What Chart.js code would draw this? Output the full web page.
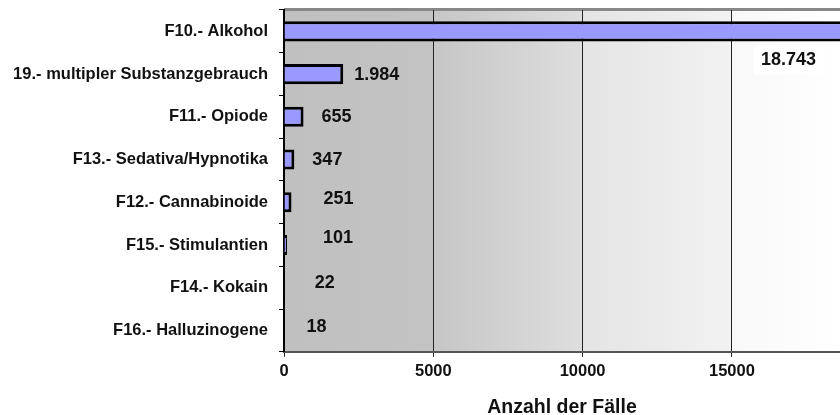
<!DOCTYPE html>
<html>
<head>
<meta charset="utf-8">
<script src="https://cdn.jsdelivr.net/npm/chart.js@4"></script>
<style>
  html, body { margin: 0; padding: 0; background: #fff; }
  canvas { display: block; }
</style>
</head>
<body>
<canvas id="bar-chart" width="840" height="415"></canvas>
<script>
const categories = [
  'F10.- Alkohol',
  '19.- multipler Substanzgebrauch',
  'F11.- Opiode',
  'F13.- Sedativa/Hypnotika',
  'F12.- Cannabinoide',
  'F15.- Stimulantien',
  'F14.- Kokain',
  'F16.- Halluzinogene',
];
const cases = [18743, 1984, 655, 347, 251, 101, 22, 18];
const xTicks = [0, 5000, 10000, 15000];

// nudges for the value labels [dx, dy], they were moved by hand in the original
const labelNudge = [[0, 0], [5, 1], [12, 0], [12, 0], [26, -3], [30, -7], [24, -5], [16, -3]];

const FONT = 'Arial, "Liberation Sans", sans-serif';

function formatNumber(v) {
  return v.toLocaleString('de-DE');
}

const plotBackground = {
  id: 'plotBackground',
  beforeDraw(chart) {
    const { ctx, chartArea: a, scales: { x } } = chart;
    const bands = [
      [0, 5000, '#c0c0c0', '#c3c3c3'],
      [5000, 10000, '#c6c6c6', '#dedede'],
      [10000, 15000, '#e4e4e4', '#f2f2f2'],
      [15000, x.max, '#f8f8f8', '#ffffff'],
    ];
    ctx.save();
    bands.forEach(([from, to, c1, c2]) => {
      const x1 = x.getPixelForValue(from);
      const x2 = x.getPixelForValue(to);
      const g  = ctx.createLinearGradient(x1, 0, x2, 0);
      g.addColorStop(0, c1);
      g.addColorStop(1, c2);
      ctx.fillStyle = g;
      ctx.fillRect(x1, a.top, x2 - x1, a.bottom - a.top);
    });
    // grey top border
    ctx.strokeStyle = '#888';
    ctx.lineWidth = 3;
    ctx.beginPath();
    ctx.moveTo(a.left, a.top - 0.5);
    ctx.lineTo(a.right, a.top - 0.5);
    ctx.stroke();
    ctx.restore();
  },
};

const valueLabels = {
  id: 'valueLabels',
  afterDatasetsDraw(chart) {
    const { ctx, chartArea: a, scales: { x } } = chart;
    const meta = chart.getDatasetMeta(0);
    ctx.save();
    ctx.font = `bold 18px ${FONT}`;
    ctx.textBaseline = 'middle';
    meta.data.forEach((bar, i) => {
      const text = formatNumber(cases[i]);
      if (cases[i] > x.max) {
        // bar runs off the plot: label sits under it on a white box
        const w  = ctx.measureText(text).width;
        const tx = a.right - 24 - w;
        const ty = bar.y + 29;
        ctx.fillStyle = '#fff';
        ctx.fillRect(tx - 7, ty - 14, w + 14, 28);
        ctx.fillStyle = '#111';
        ctx.textAlign = 'left';
        ctx.fillText(text, tx, ty);
        return;
      }
      const [dx, dy] = labelNudge[i];
      ctx.fillStyle = '#111';
      ctx.textAlign = 'left';
      ctx.fillText(text, bar.x + 6 + dx, bar.y + dy);
    });
    ctx.restore();
  },
};

new Chart(document.getElementById('bar-chart'), {
  type: 'bar',
  data: {
    labels: categories,
    datasets: [{
      data: cases,
      backgroundColor: '#9999ff',
      borderColor: '#000',
      borderWidth: 3,
      borderSkipped: 'start',
      barPercentage: 0.94,
      categoryPercentage: 0.5,
    }],
  },
  options: {
    indexAxis: 'y',
    responsive: false,
    animation: false,
    layout: { padding: { top: 10, right: 0, left: 0, bottom: 0 } },
    plugins: {
      legend: { display: false },
      tooltip: { enabled: false },
    },
    scales: {
      x: {
        min: 0,
        max: 18620,
        afterBuildTicks: scale => {
          scale.ticks = xTicks.map(v => ({ value: v }));
        },
        ticks: {
          color: '#111',
          font: { family: FONT, size: 16.5, weight: 'bold' },
          padding: 5,
          maxRotation: 0,
          callback: v => String(v),
        },
        grid: {
          color: '#222',
          lineWidth: 1,
          tickColor: '#222',
          tickLength: 5,
        },
        border: { color: '#555', width: 2 },
        title: {
          display: true,
          text: 'Anzahl der Fälle',
          color: '#111',
          font: { family: FONT, size: 19.5, weight: 'bold' },
          padding: { top: 9, bottom: -4 },
        },
      },
      y: {
        afterFit: scale => {
          scale.width = 284;
          scale.paddingTop = 0;
          scale.paddingBottom = 0;
        },
        ticks: {
          color: '#111',
          font: { family: FONT, size: 16.5, weight: 'bold' },
          padding: 11,
        },
        grid: {
          offset: true,
          drawOnChartArea: false,
          color: '#000',
          tickLength: 5,
        },
        border: { color: '#000', width: 2 },
      },
    },
  },
  plugins: [plotBackground, valueLabels],
});
</script>
</body>
</html>
